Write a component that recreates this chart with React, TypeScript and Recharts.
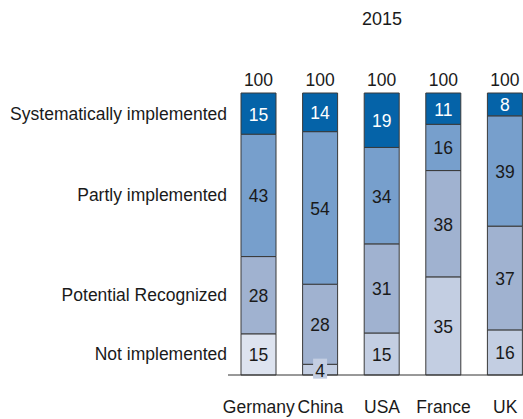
import React from 'react';
import { BarChart, Bar, XAxis, YAxis, Cell, LabelList } from 'recharts';

const categories = ['Germany', 'China', 'USA', 'France', 'UK'];
const seriesNames = ['Not implemented', 'Potential Recognized', 'Partly implemented', 'Systematically implemented'];

// segment heights
const notImplemented = [14.6, 3.8, 14.9, 34.8, 16.0];
const potentialRecognized = [27.4, 28.4, 31.6, 37.7, 36.8];
const partlyImplemented = [43.4, 54.1, 34.2, 16.4, 39.1];
const systematicallyImplemented = [14.6, 13.7, 19.3, 11.1, 8.1];

// printed labels
const notImplementedLabels = [15, 4, 15, 35, 16];
const potentialRecognizedLabels = [28, 28, 31, 38, 37];
const partlyImplementedLabels = [43, 54, 34, 16, 39];
const systematicallyImplementedLabels = [15, 14, 19, 11, 8];
const totalLabels = [100, 100, 100, 100, 100];

const COLORS = ['#c3cee2', '#a0b2d0', '#779fcc', '#0563a8'];
const GERMANY_BOTTOM = '#dde3ef';
const FONT = '"Liberation Sans", Arial, sans-serif';
const TEXT = '#1a1a1a';
const FS = 17.5;

const data = categories.map((c, i) => ({
  name: c,
  n: notImplemented[i],
  p: potentialRecognized[i],
  pi: partlyImplemented[i],
  s: systematicallyImplemented[i],
  nL: notImplementedLabels[i],
  pL: potentialRecognizedLabels[i],
  piL: partlyImplementedLabels[i],
  sL: systematicallyImplementedLabels[i],
  tL: totalLabels[i],
}));

const makeSegLabel = (seriesIdx: number, textColor: string) => (props: any) => {
  const { x, y, width, height, value, index } = props;
  const cx = x + width / 2;
  const cy = y + height / 2;
  const small = height < 14;
  return (
    <g>
      {small && (
        <rect x={cx - 7} y={cy - 11} width={14} height={20} fill={COLORS[0]} />
      )}
      <text x={cx} y={cy + 1} textAnchor="middle" dominantBaseline="central" fontSize={FS} fontFamily={FONT} fill={textColor}>
        {value}
      </text>
      {index === 0 && (
        <text x={x - 14} y={cy} textAnchor="end" dominantBaseline="central" fontSize={FS} fontFamily={FONT} fill={TEXT}>
          {seriesNames[seriesIdx]}
        </text>
      )}
    </g>
  );
};

const TotalLabel = (props: any) => {
  const { x, y, width, value } = props;
  return (
    <text x={x + width / 2} y={y - 13} textAnchor="middle" dominantBaseline="central" fontSize={FS} fontFamily={FONT} fill={TEXT}>
      {value}
    </text>
  );
};

const Tick = (props: any) => {
  const { x, y, payload } = props;
  return (
    <text x={x} y={y + 32} textAnchor="middle" dominantBaseline="central" fontSize={FS} fontFamily={FONT} fill={TEXT}>
      {payload.value}
    </text>
  );
};

export default function App() {
  return (
    <div style={{ position: 'relative', width: 523, height: 419, overflow: 'hidden', background: '#fff' }}>
      <style>{`body{margin:0;overflow:hidden;}`}</style>
      <div style={{ position: 'absolute', left: 282, top: 8, width: 200, textAlign: 'center', fontFamily: FONT, fontSize: 18, lineHeight: '22px', color: TEXT }}>
        2015
      </div>
      <BarChart width={540} height={419} data={data} margin={{ top: 93, right: 4, left: 228, bottom: 0 }} barSize={35}>
        <XAxis dataKey="name" height={44} tickLine={false} tickSize={0} tickMargin={0} axisLine={{ stroke: '#333', strokeWidth: 1 }} tick={<Tick />} interval={0} />
        <YAxis hide domain={[0, 100]} width={0} />
        <Bar dataKey="n" stackId="a" isAnimationActive={false} stroke="#3a3a3a" strokeWidth={1}>
          {data.map((d, i) => (
            <Cell key={i} fill={i === 0 ? GERMANY_BOTTOM : COLORS[0]} />
          ))}
          <LabelList dataKey="nL" content={makeSegLabel(0, TEXT)} />
        </Bar>
        <Bar dataKey="p" stackId="a" isAnimationActive={false} fill={COLORS[1]} stroke="#3a3a3a" strokeWidth={1}>
          <LabelList dataKey="pL" content={makeSegLabel(1, TEXT)} />
        </Bar>
        <Bar dataKey="pi" stackId="a" isAnimationActive={false} fill={COLORS[2]} stroke="#3a3a3a" strokeWidth={1}>
          <LabelList dataKey="piL" content={makeSegLabel(2, TEXT)} />
        </Bar>
        <Bar dataKey="s" stackId="a" isAnimationActive={false} fill={COLORS[3]} stroke="#3a3a3a" strokeWidth={1}>
          <LabelList dataKey="sL" content={makeSegLabel(3, '#ffffff')} />
          <LabelList dataKey="tL" content={<TotalLabel />} />
        </Bar>
      </BarChart>
    </div>
  );
}
